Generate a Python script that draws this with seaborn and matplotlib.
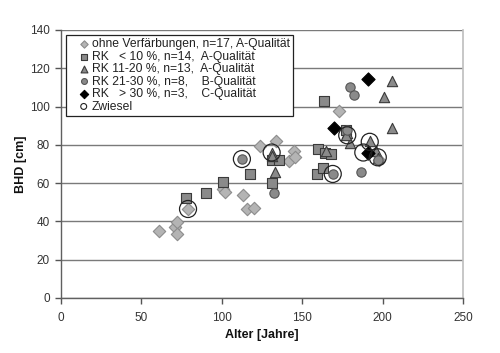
import matplotlib
matplotlib.use("Agg")
import matplotlib.pyplot as plt
import seaborn as sns
import pandas as pd

# ---- data ----
ohne_age = [61, 71, 72, 72, 79, 101, 102, 113, 115.5, 120, 124, 134, 142, 145, 145.5, 173, 198]
ohne_bhd = [35, 37, 39.7, 33.4, 46.5, 57, 55.4, 54, 46.5, 47, 79.4, 82, 71.6, 77, 73.7, 97.7, 72]

rk10_age = [78, 90, 101, 117.5, 131, 135.6, 131, 160, 164, 168, 159, 163, 163.6, 177]
rk10_bhd = [52, 55, 60.6, 65, 72, 72, 60, 78, 76, 75, 65, 68, 103, 88]

rk20_age = [131, 133, 165, 180, 178, 192, 196, 197, 201, 206, 206, 131, 177]
rk20_bhd = [76, 66, 77, 81, 86, 82, 77, 73, 105, 113.4, 89, 74, 85]

rk30_age = [112.5, 132.5, 169, 186.5, 180, 182, 197, 178]
rk30_bhd = [72.6, 55, 64.8, 66, 110, 106, 72, 88]

rkg30_age = [170, 191, 191]
rkg30_bhd = [89, 114.4, 75.6]

zw_age = [79, 112.5, 131, 169, 178, 188, 192, 197]
zw_bhd = [46.5, 72.6, 76, 64.8, 85, 76, 81.6, 73.5]

labels = ["ohne Verfärbungen, n=17, A-Qualität",
          "RK   < 10 %, n=14,  A-Qualität",
          "RK 11-20 %, n=13,  A-Qualität",
          "RK 21-30 %, n=8,    B-Qualität",
          "RK   > 30 %, n=3,    C-Qualität",
          "Zwiesel"]

x_ticks = [0, 50, 100, 150, 200, 250]
y_ticks = [0, 20, 40, 60, 80, 100, 120, 140]

sns.set_theme(style="white")
plt.rcParams['font.family'] = ['Liberation Sans', 'DejaVu Sans']

fig = plt.figure(figsize=(5.0, 3.53), dpi=100)
ax = fig.add_axes([61/500, 1-298/353, 402/500, 268/353])

series = [
    (ohne_age, ohne_bhd, "D", 40, "#b4b4b4", "#8c8c8c", 0.8),
    (rk10_age, rk10_bhd, "s", 48, "#8a8a8a", "#3a3a3a", 0.8),
    (rk20_age, rk20_bhd, "^", 55, "#8a8a8a", "#3a3a3a", 0.8),
    (rk30_age, rk30_bhd, "o", 45, "#8a8a8a", "#555555", 0.8),
    (rkg30_age, rkg30_bhd, "D", 45, "#000000", "#000000", 0.8),
]
for (xa, ya, m, s, fc, ec, lw), lab in zip(series, labels[:5]):
    df = pd.DataFrame({"Alter": xa, "BHD": ya})
    sns.scatterplot(data=df, x="Alter", y="BHD", marker=m, s=s, color=fc,
                    edgecolor=ec, linewidth=lw, ax=ax, label=lab, zorder=3)
dfz = pd.DataFrame({"Alter": zw_age, "BHD": zw_bhd})
sns.scatterplot(data=dfz, x="Alter", y="BHD", marker="o", s=150, facecolor="none",
                edgecolor="#222222", linewidth=0.9, ax=ax, label=labels[5], zorder=4)

ax.set_xlim(0, 250)
ax.set_ylim(0, 140)
ax.set_xticks(x_ticks)
ax.set_yticks(y_ticks)
ax.yaxis.grid(True, color="#7a7a7a", linewidth=1.0)
ax.set_axisbelow(True)
ax.tick_params(axis="both", which="both", direction="out", length=4, width=1,
               color="#555555", labelsize=8.5, labelcolor="#333333", pad=4,
               bottom=True, left=True)
ax.tick_params(axis="x", pad=6)
for side in ["left", "bottom"]:
    ax.spines[side].set_color("#606060")
    ax.spines[side].set_linewidth(1.0)
ax.spines["right"].set_color("#c0c0c0")
ax.spines["top"].set_visible(False)

ax.set_xlabel("Alter [Jahre]", fontsize=9, fontweight="bold", color="#111111", labelpad=4)
ax.set_ylabel("BHD [cm]", fontsize=9, fontweight="bold", color="#111111", labelpad=2)

handles, labs = ax.get_legend_handles_labels()
leg = ax.legend(handles, labs, loc="upper left", bbox_to_anchor=(0.012, 0.982),
                frameon=True, fancybox=False, framealpha=1, edgecolor="#222222",
                fontsize=8.7, handlelength=2.4, handletextpad=-0.55, labelspacing=0.04,
                borderpad=0.28, borderaxespad=0)
leg.get_frame().set_linewidth(0.9)
hs = leg.legend_handles
size_map = [14, 20, 24, 18, 18, 18]
for h, sz in zip(hs, size_map):
    h.set_sizes([sz])
hs[5].set_linewidth(0.8)
for t in leg.get_texts():
    t.set_color("#222222")
leg.set_zorder(10)

fig.savefig("out.png", dpi=100)
